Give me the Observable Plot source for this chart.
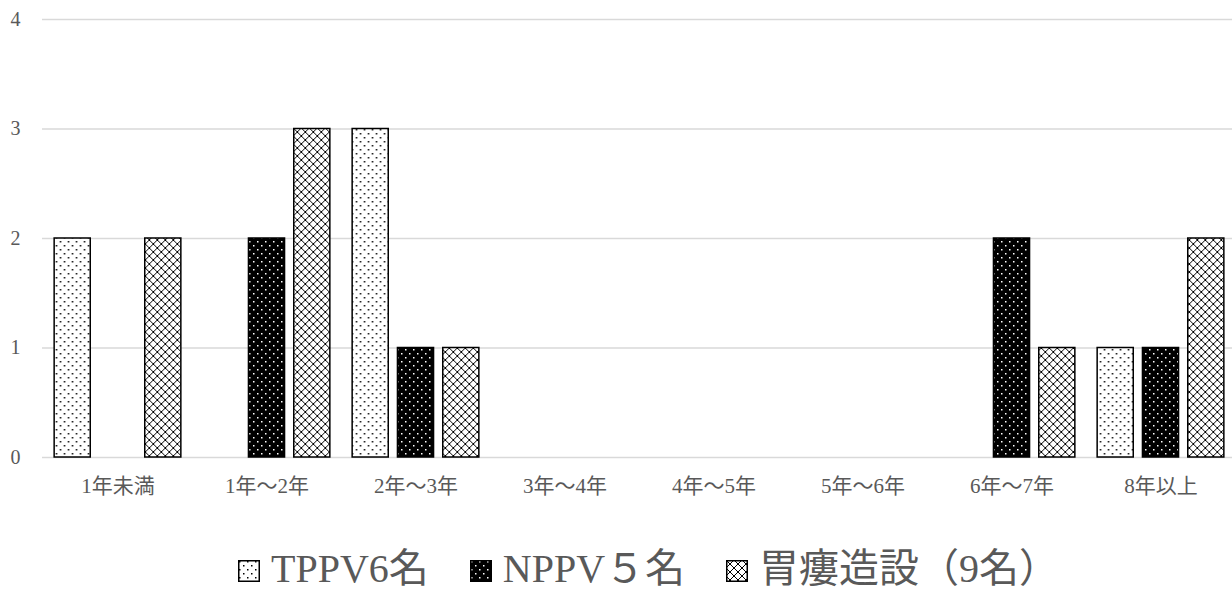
<!DOCTYPE html>
<html>
<head>
<meta charset="utf-8">
<script src="https://cdn.jsdelivr.net/npm/d3@7"></script>
<script src="https://cdn.jsdelivr.net/npm/@observablehq/plot@0.6"></script>
<style>
  body { margin: 0; background: #fff; width: 1232px; height: 589px; overflow: hidden; position: relative;
         font-family: "Liberation Serif", "Noto Sans CJK JP", serif; }
  #chart svg g[aria-label^="x-axis"] text { font-size: 21px; }
  #legend { position: absolute; left: 238px; top: 549px; display: flex; align-items: baseline;
            color: #595959; font-size: 40px; line-height: 40px; white-space: nowrap; }
  #legend .item { display: inline-flex; align-items: baseline; margin-right: 41px; }
  #legend svg { display: inline-block; margin-right: 11px; vertical-align: baseline; }
</style>
</head>
<body>
<!-- fill patterns shared by the bars and the legend swatches -->
<svg width="0" height="0" style="position:absolute">
  <defs>
    <pattern id="pat-tppv" width="8" height="8" patternUnits="userSpaceOnUse">
      <rect width="8" height="8" fill="#fff"/>
      <rect x="1" y="1" width="1.5" height="1.5" fill="#000"/>
      <rect x="5" y="5" width="1.5" height="1.5" fill="#000"/>
    </pattern>
    <pattern id="pat-nppv" width="8" height="8" patternUnits="userSpaceOnUse">
      <rect width="8" height="8" fill="#000"/>
      <rect x="1" y="1" width="1.5" height="1.5" fill="#fff"/>
      <rect x="5" y="5" width="1.5" height="1.5" fill="#fff"/>
    </pattern>
    <pattern id="pat-gastro" width="8" height="8" patternUnits="userSpaceOnUse">
      <rect width="8" height="8" fill="#fff"/>
      <path d="M-1,-1L9,9M9,-1L-1,9" stroke="#000" stroke-width="1" fill="none"/>
    </pattern>
  </defs>
</svg>
<div id="chart"></div>
<div id="legend"></div>
<script>
// Duration categories on the x axis
const categories = ["1年未満", "1年～2年", "2年～3年", "3年～4年", "4年～5年", "5年～6年", "6年～7年", "8年以上"];
// Series names as shown in the legend
const seriesNames = ["TPPV6名", "NPPV５名", "胃瘻造設（9名）"];
// Counts per category for each series
const tppv = [2, 0, 3, 0, 0, 0, 0, 1];
const nppv = [0, 2, 1, 0, 0, 0, 2, 1];
const gastrostomy = [2, 3, 1, 0, 0, 0, 1, 2];
// Y axis ticks
const yTicks = [0, 1, 2, 3, 4];

const seriesValues = [tppv, nppv, gastrostomy];
const patternIds = ["pat-tppv", "pat-nppv", "pat-gastro"];
const barOffsets = [-45.3, 0, 45.3];
const barInset = 56.45;

const rows = categories.flatMap((category, i) =>
  seriesNames.map((series, j) => ({category, series, value: seriesValues[j][i]}))
);

const barMarks = seriesNames.map((series, j) =>
  Plot.barY(rows.filter(d => d.series === series && d.value > 0), {
    x: "category",
    y: "value",
    fill: `url(#${patternIds[j]})`,
    stroke: "#000",
    strokeWidth: 1.5,
    insetLeft: barInset,
    insetRight: barInset,
    dx: barOffsets[j]
  })
);

const chart = Plot.plot({
  width: 1232,
  height: 510,
  marginTop: 19,
  marginBottom: 53,
  marginLeft: 42,
  marginRight: 0,
  style: {fontFamily: '"Liberation Serif", "Noto Sans CJK JP", serif', fontSize: "20px", color: "#595959", background: "transparent"},
  x: {domain: categories, range: [41.5, 1236.7], padding: 0, label: null, tickSize: 0, tickPadding: 21},
  y: {domain: [0, 4], ticks: yTicks, tickFormat: d3.format("d"), label: null, tickSize: 0, tickPadding: 22},
  marks: [
    Plot.ruleY(yTicks, {stroke: "#d9d9d9", strokeWidth: 1.5}),
    ...barMarks
  ]
});
document.getElementById("chart").appendChild(chart);

// Legend below the chart
const legend = document.getElementById("legend");
seriesNames.forEach((name, j) => {
  const item = document.createElement("span");
  item.className = "item";
  item.innerHTML = `<svg width="22" height="22"><rect x="0.75" y="0.75" width="20.5" height="20.5" fill="url(#${patternIds[j]})" stroke="#000" stroke-width="1.5"/></svg><span>${name}</span>`;
  legend.appendChild(item);
});
</script>
</body>
</html>
